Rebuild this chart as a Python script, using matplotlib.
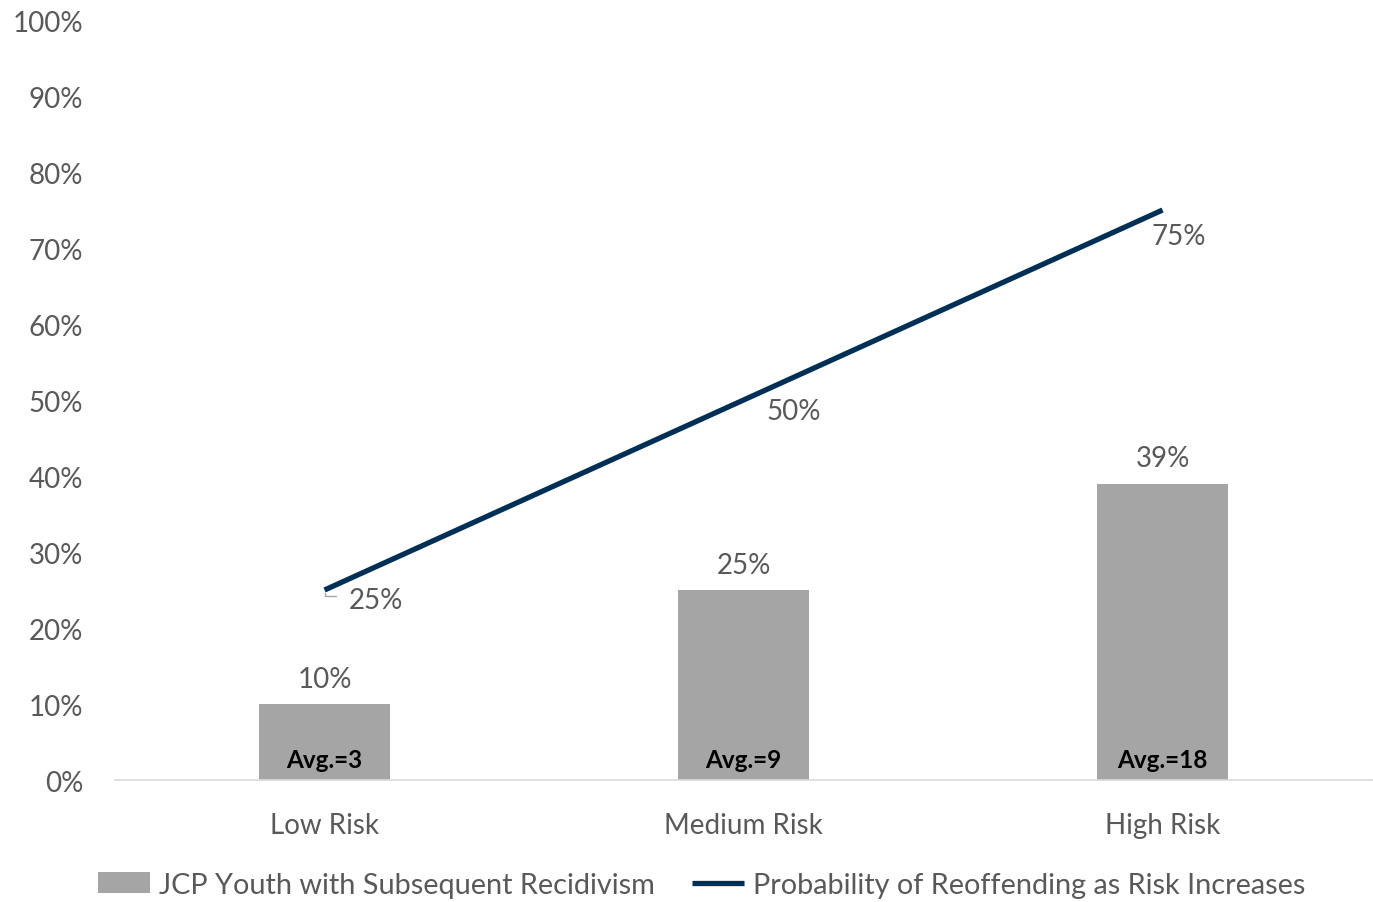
import matplotlib
matplotlib.use("Agg")
import matplotlib.pyplot as plt
from matplotlib.ticker import PercentFormatter
from matplotlib.patches import Patch
from matplotlib.lines import Line2D

# data
categories = ["Low Risk", "Medium Risk", "High Risk"]
recidivism = [10, 25, 39]
probability = [25, 50, 75]
avg_labels = ["Avg.=3", "Avg.=9", "Avg.=18"]
bar_name = "JCP Youth with Subsequent Recidivism"
line_name = "Probability of Reoffending as Risk Increases"

GREY_TEXT = "#595959"
BAR = "#A5A5A5"
NAVY = "#002F56"
FS = 20

plt.rcParams["font.family"] = ["Lato", "DejaVu Sans"]

fig = plt.figure(figsize=(13.73, 9.03), dpi=100)
ax = fig.add_axes([0.0838, 0.1351, 0.9155, 0.8416])

x = list(range(len(categories)))
ax.bar(x, recidivism, width=0.314, color=BAR, zorder=2)
ax.plot(x, probability, color=NAVY, lw=3.8, zorder=3, solid_capstyle="butt")

ax.set_xlim(-0.5, 2.5)
ax.set_ylim(0, 100)
ax.set_yticks(range(0, 101, 10))
ax.yaxis.set_major_formatter(PercentFormatter(decimals=0))
ax.set_xticks(x)
ax.set_xticklabels(categories)

for side in ["top", "right", "left"]:
    ax.spines[side].set_visible(False)
ax.spines["bottom"].set_color("#D9D9D9")
ax.spines["bottom"].set_linewidth(1.2)
ax.tick_params(axis="both", length=0, labelsize=FS, colors=GREY_TEXT)
ax.tick_params(axis="y", pad=23)
ax.tick_params(axis="x", pad=23)

# bar value labels
for xi, v in zip(x, recidivism):
    ax.annotate(f"{v}%", (xi, v), xytext=(0, 9), textcoords="offset points",
                ha="center", va="bottom", fontsize=FS, color=GREY_TEXT)

# avg labels inside bars
for xi, lab in zip(x, avg_labels):
    ax.annotate(lab, (xi, 0), xytext=(0, 15), textcoords="offset points",
                ha="center", va="center", fontsize=17.5, fontweight="bold", color="black")

# line value labels
offsets = [(37, -7), (36, -8), (12, -19)]
for xi, v, off in zip(x, probability, offsets):
    ax.annotate(f"{v}%", (xi, v), xytext=off, textcoords="offset points",
                ha="center", va="center", fontsize=FS, color=GREY_TEXT)
# small leader line at the first label
ax.annotate("", (x[0], probability[0]), xytext=(10, -4), textcoords="offset points",
            arrowprops=dict(arrowstyle="-", color="#A6A6A6", lw=1,
                            connectionstyle="angle,angleA=0,angleB=90,rad=0"))

handles = [Patch(facecolor=BAR, edgecolor="none"),
           Line2D([0], [0], color=NAVY, lw=3.8, solid_capstyle="butt")]
fig.legend(handles, [bar_name, line_name], loc="center", bbox_to_anchor=(0.511, 0.019),
           ncol=2, frameon=False, fontsize=20.8, labelcolor=GREY_TEXT,
           handlelength=1.8, handleheight=0.72, handletextpad=0.3, columnspacing=1.3)

fig.savefig("out.png", dpi=100)
